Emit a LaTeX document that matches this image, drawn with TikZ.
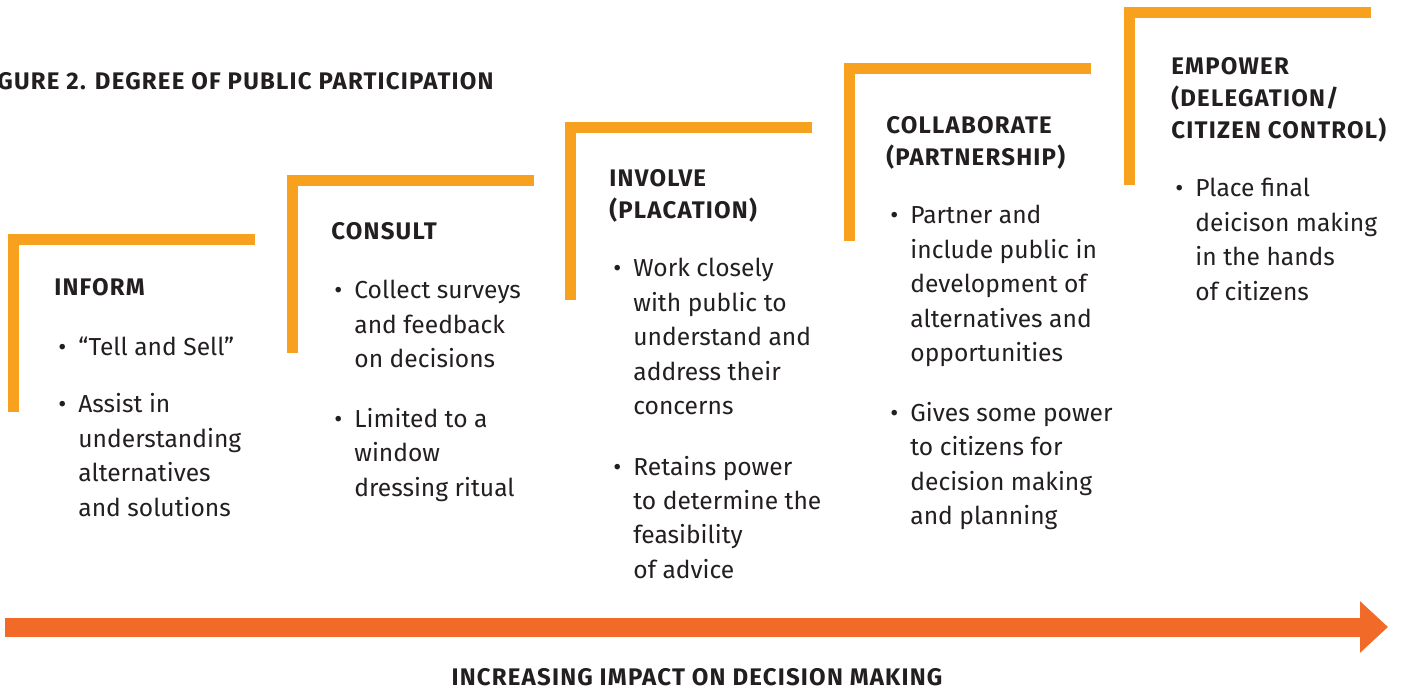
\documentclass[tikz,border=0pt]{standalone}
\usepackage{fontspec}
\setmainfont{Fira Sans}
\newfontfamily\headfont{Fira Sans}[LetterSpace=5]
\usetikzlibrary{arrows.meta}

\definecolor{stepor}{HTML}{F7A11E}
\definecolor{arrowor}{HTML}{F26A27}
\definecolor{ink}{HTML}{231F20}
\newcommand{\bul}{\llap{\textbullet\hspace{6pt}}}

\begin{document}
\begin{tikzpicture}[x=0.5pt, y=-0.5pt,
    every node/.style={inner sep=0pt, text=ink},
    % nodes are placed at the baseline of their last line
    heading/.style={anchor=base west, align=left, font=\headfont\bfseries\fontsize{12}{16}\selectfont},
    entry/.style={anchor=base west, align=left, font=\fontsize{12.3}{17.25}\selectfont},
    stepbar/.style={draw=stepor, line width=5.5pt, line join=miter}]
    \useasboundingbox (0,0) rectangle (1403,689);

    % the five steps
    \foreach \x/\y in {13/240, 292/181, 570/128, 849/69, 1129/13}
        \draw[stepbar] (\x,\y+172) |- (\x+242,\y);

    \node[heading] (title) at (-3,90) {GURE 2. DEGREE OF PUBLIC PARTICIPATION};

    % inform
    \node[heading] (head1) at (54,296) {INFORM};
    \node[entry] (item1a) at (78,356) {\bul“Tell and Sell”};
    \node[entry] (item1b) at (78,516.5) {\bul Assist in\\understanding\\alternatives\\and solutions};

    % consult
    \node[heading] (head2) at (331,240) {CONSULT};
    \node[entry] (item2a) at (354,368) {\bul Collect surveys\\and feedback\\on decisions};
    \node[entry] (item2b) at (354,496) {\bul Limited to a\\window\\dressing ritual};

    % involve
    \node[heading] (head3) at (609,219) {INVOLVE\\(PLACATION)};
    \node[entry] (item3a) at (633,415) {\bul Work closely\\with public to\\understand and\\address their\\concerns};
    \node[entry] (item3b) at (633,578.5) {\bul Retains power\\to determine the\\feasibility\\of advice};

    % collaborate
    \node[heading] (head4) at (886,166) {COLLABORATE\\(PARTNERSHIP)};
    \node[entry] (item4a) at (910,362) {\bul Partner and\\include public in\\development of\\alternatives and\\opportunities};
    \node[entry] (item4b) at (910,524.5) {\bul Gives some power\\to citizens for\\decision making\\and planning};

    % empower
    \node[heading] (head5) at (1171,139) {EMPOWER\\(DELEGATION/\\CITIZEN CONTROL)};
    \node[entry] (item5a) at (1195,300.5) {\bul Place final\\deicison making\\in the hands\\of citizens};

    % impact arrow
    \coordinate (arrstart) at (5,627);
    \coordinate (arrend) at (1388,627);
    \draw[arrowor, line width=9.5pt, -{Triangle[length=14pt, width=25pt]}] (arrstart) -- (arrend);
    \node[heading, anchor=base] (impact) at (697,685) {INCREASING IMPACT ON DECISION MAKING};
\end{tikzpicture}
\end{document}
